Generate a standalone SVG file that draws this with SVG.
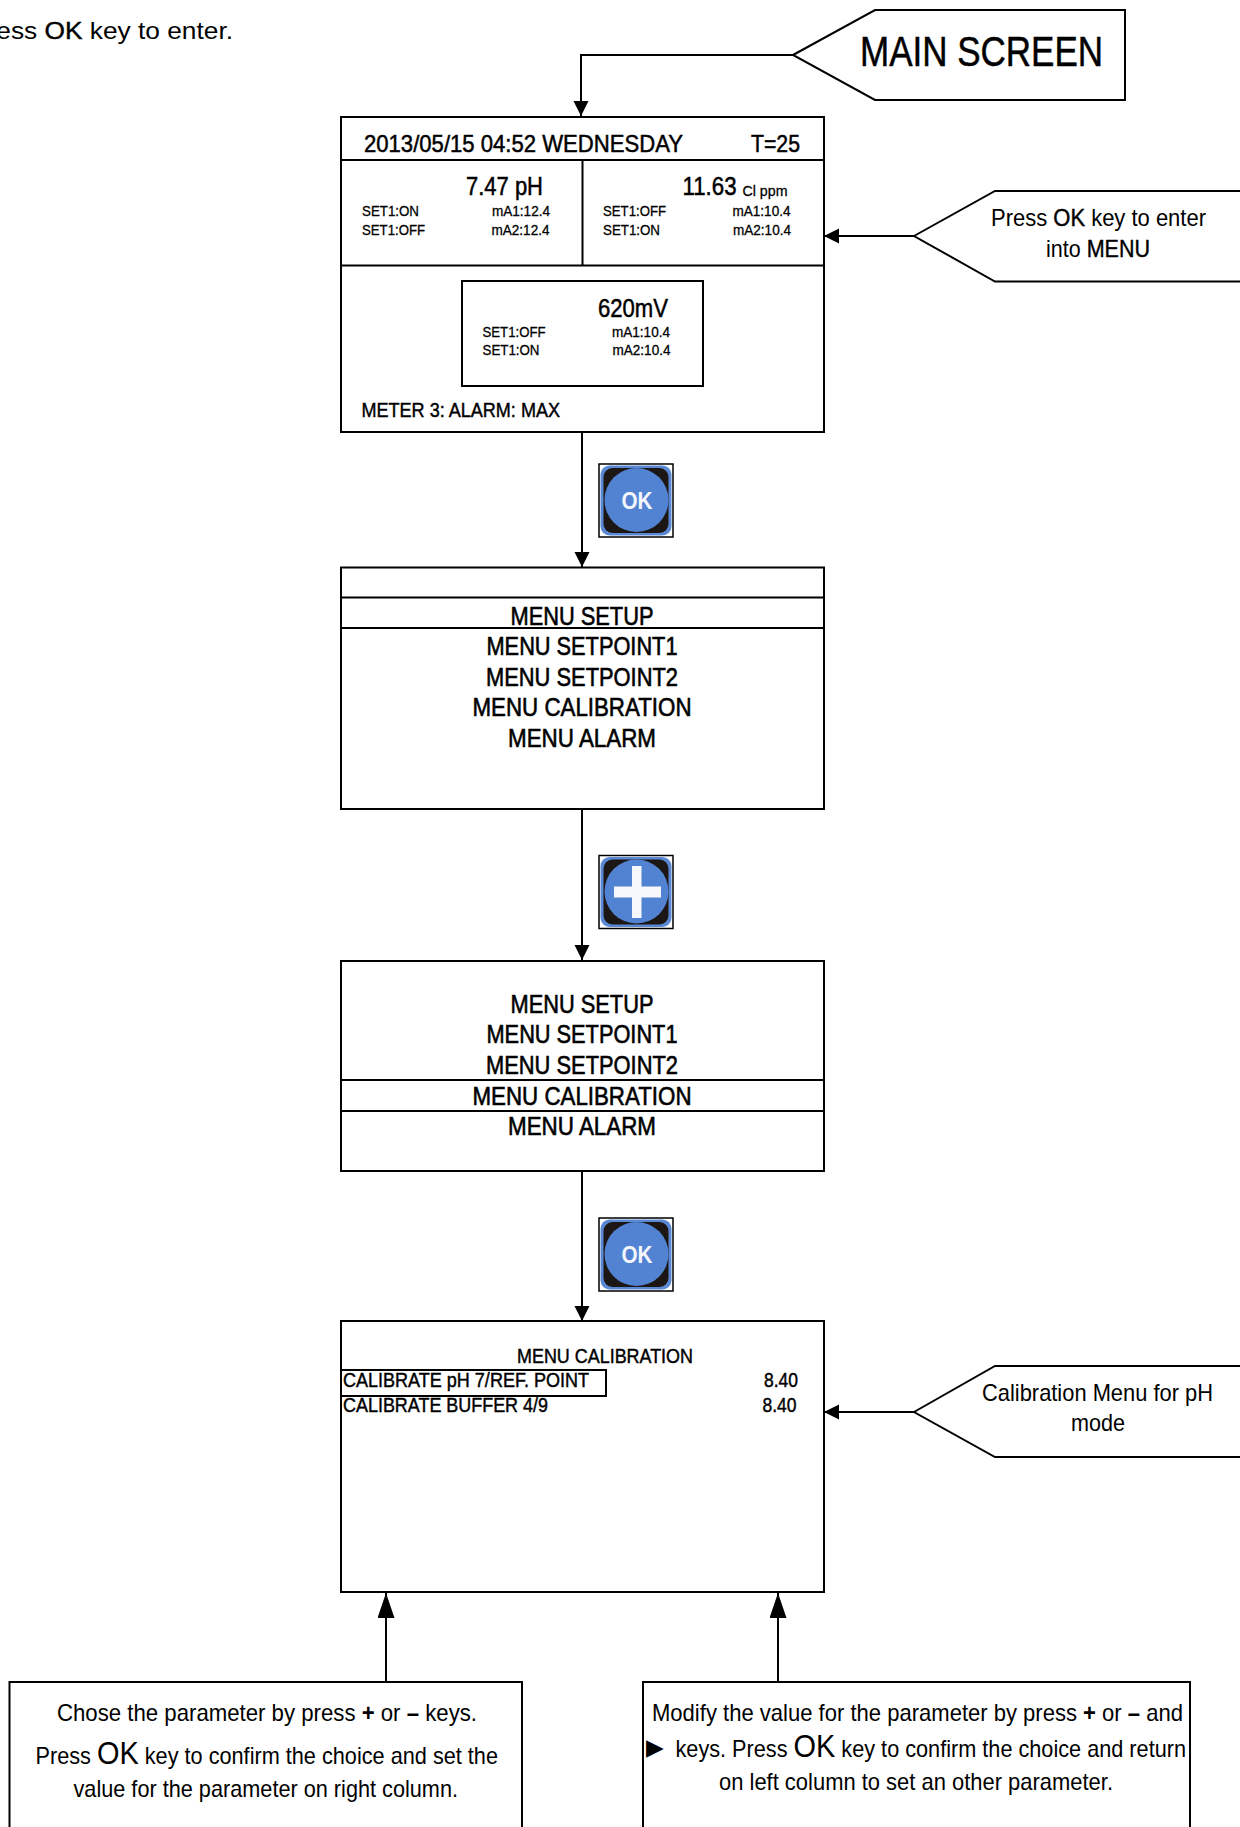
<svg xmlns="http://www.w3.org/2000/svg" width="1240" height="1827" viewBox="0 0 1240 1827">
<style>
text{font-family:"Liberation Sans",Arial,sans-serif;fill:#000;font-size:24px}
.m{text-anchor:middle}
.box{fill:#fff;stroke:#000;stroke-width:2}
.ln{fill:none;stroke:#000;stroke-width:2}
.s{font-size:15.5px;stroke:#000;stroke-width:.3}
.big{font-size:26px;stroke:#000;stroke-width:.5}
.h{font-size:24.500px;stroke:#000;stroke-width:.5}
.menu{font-size:25.500px;stroke:#000;stroke-width:.6}
.d{font-size:21px;stroke:#000;stroke-width:.45}
.ok{stroke:#000;stroke-width:.4}
.btn{font-weight:bold;fill:#f4f6fb;font-size:24px}
</style>
<defs>
<marker id="ah" markerUnits="userSpaceOnUse" markerWidth="16" markerHeight="16" refX="15" refY="7.5" orient="auto"><path d="M0 0L15 7.5L0 15Z" fill="#000"/></marker>
<marker id="au" markerUnits="userSpaceOnUse" markerWidth="26" markerHeight="18" refX="25" refY="8.5" orient="auto"><path d="M0 0L25 8.5L0 17Z" fill="#000"/></marker>
<g id="keybase">
<rect x="0" y="0" width="74" height="73" fill="#fff" stroke="#000" stroke-width="1.500"/>
<rect x="1.500" y="1.500" width="71" height="70" rx="9" fill="#5a88d4"/>
<rect x="4.500" y="4" width="65" height="65" rx="9" fill="#1c1714"/>
<circle cx="37.500" cy="36" r="32" fill="#5283d3"/>
</g>
</defs>
<text x="-30" y="39" textLength="263" lengthAdjust="spacingAndGlyphs">Press <tspan class="ok">OK</tspan> key to enter.</text>

<g id="connectors">
<path class="ln" d="M793 55H581V116" marker-end="url(#ah)"/>
<path class="ln" d="M914 236H824" marker-end="url(#ah)"/>
<path class="ln" d="M582 432V567" marker-end="url(#ah)"/>
<path class="ln" d="M582 809V960" marker-end="url(#ah)"/>
<path class="ln" d="M582 1171V1321" marker-end="url(#ah)"/>
<path class="ln" d="M914 1412H824" marker-end="url(#ah)"/>
<path class="ln" d="M386 1682V1593" marker-end="url(#au)"/>
<path class="ln" d="M778 1682V1593" marker-end="url(#au)"/>
</g>

<g id="main-screen">
<path class="box" d="M793 55L875 10H1125V100H875Z"/>
<text x="860" y="66" style="font-size:42px;stroke:#000;stroke-width:.5" textLength="243" lengthAdjust="spacingAndGlyphs">MAIN SCREEN</text>
</g>

<g id="note-menu">
<path class="box" d="M914 236L995 191H1245V281.500H995Z"/>
<text x="991" y="226" textLength="215" lengthAdjust="spacingAndGlyphs">Press <tspan class="ok">OK</tspan> key to enter</text>
<text x="1046" y="257" textLength="104" lengthAdjust="spacingAndGlyphs">into <tspan class="ok">MENU</tspan></text>
</g>

<g id="screen-main">
<rect class="box" x="341" y="117" width="483" height="315"/>
<path class="ln" d="M341 160H824M341 265.500H824M582.500 160V265.500"/>
<rect class="box" x="462" y="281" width="241" height="105"/>
<text class="h" x="364" y="152" textLength="319" lengthAdjust="spacingAndGlyphs">2013/05/15 04:52 WEDNESDAY</text>
<text class="h" x="751" y="152" textLength="49" lengthAdjust="spacingAndGlyphs">T=25</text>
<text class="big" x="466" y="195" textLength="77" lengthAdjust="spacingAndGlyphs">7.47 pH</text>
<text class="s" x="362" y="216" textLength="57" lengthAdjust="spacingAndGlyphs">SET1:ON</text>
<text class="s" x="362" y="235" textLength="63" lengthAdjust="spacingAndGlyphs">SET1:OFF</text>
<text class="s" x="492" y="216" textLength="58" lengthAdjust="spacingAndGlyphs">mA1:12.4</text>
<text class="s" x="491.500" y="235" textLength="58" lengthAdjust="spacingAndGlyphs">mA2:12.4</text>
<text class="big" x="682.500" y="195" textLength="54" lengthAdjust="spacingAndGlyphs">11.63</text>
<text class="s" x="742.500" y="196" textLength="45" lengthAdjust="spacingAndGlyphs">Cl ppm</text>
<text class="s" x="603" y="216" textLength="63" lengthAdjust="spacingAndGlyphs">SET1:OFF</text>
<text class="s" x="603" y="235" textLength="57" lengthAdjust="spacingAndGlyphs">SET1:ON</text>
<text class="s" x="732.500" y="216" textLength="58" lengthAdjust="spacingAndGlyphs">mA1:10.4</text>
<text class="s" x="733" y="235" textLength="58" lengthAdjust="spacingAndGlyphs">mA2:10.4</text>
<text class="big" x="598" y="317" textLength="70" lengthAdjust="spacingAndGlyphs">620mV</text>
<text class="s" x="482.500" y="337" textLength="63" lengthAdjust="spacingAndGlyphs">SET1:OFF</text>
<text class="s" x="482.500" y="355" textLength="57" lengthAdjust="spacingAndGlyphs">SET1:ON</text>
<text class="s" x="612" y="337" textLength="58" lengthAdjust="spacingAndGlyphs">mA1:10.4</text>
<text class="s" x="612.500" y="355" textLength="58" lengthAdjust="spacingAndGlyphs">mA2:10.4</text>
<text class="d" x="361.500" y="417" textLength="198.500" lengthAdjust="spacingAndGlyphs">METER 3: ALARM: MAX</text>
</g>

<g id="key-ok-1" transform="translate(599 464)">
<use href="#keybase"/>
<text class="btn m" x="38" y="44.500" textLength="31" lengthAdjust="spacingAndGlyphs">OK</text>
</g>

<g id="screen-menu">
<rect class="box" x="341" y="567.500" width="483" height="241.500"/>
<path class="ln" d="M341 597.500H824M341 628H824"/>
<text class="menu m" x="582" y="625" textLength="143" lengthAdjust="spacingAndGlyphs">MENU SETUP</text>
<text class="menu m" x="582" y="655" textLength="191" lengthAdjust="spacingAndGlyphs">MENU SETPOINT1</text>
<text class="menu m" x="582" y="686" textLength="192" lengthAdjust="spacingAndGlyphs">MENU SETPOINT2</text>
<text class="menu m" x="582" y="716" textLength="219" lengthAdjust="spacingAndGlyphs">MENU CALIBRATION</text>
<text class="menu m" x="582" y="746.500" textLength="148" lengthAdjust="spacingAndGlyphs">MENU ALARM</text>
</g>

<g id="key-plus" transform="translate(599 855.500)">
<use href="#keybase"/>
<rect x="15" y="31" width="47" height="11" fill="#f6f8fc"/>
<rect x="33" y="10.500" width="9.500" height="52" fill="#f6f8fc"/>
</g>

<g id="screen-menu-2">
<rect class="box" x="341" y="961" width="483" height="210"/>
<path class="ln" d="M341 1080H824M341 1111H824"/>
<text class="menu m" x="582" y="1013" textLength="143" lengthAdjust="spacingAndGlyphs">MENU SETUP</text>
<text class="menu m" x="582" y="1043" textLength="191" lengthAdjust="spacingAndGlyphs">MENU SETPOINT1</text>
<text class="menu m" x="582" y="1074" textLength="192" lengthAdjust="spacingAndGlyphs">MENU SETPOINT2</text>
<text class="menu m" x="582" y="1105" textLength="219" lengthAdjust="spacingAndGlyphs">MENU CALIBRATION</text>
<text class="menu m" x="582" y="1135" textLength="148" lengthAdjust="spacingAndGlyphs">MENU ALARM</text>
</g>

<g id="key-ok-2" transform="translate(599 1218)">
<use href="#keybase"/>
<text class="btn m" x="38" y="44.500" textLength="31" lengthAdjust="spacingAndGlyphs">OK</text>
</g>

<g id="screen-calibration">
<rect class="box" x="341" y="1321" width="483" height="271"/>
<rect class="ln" x="341" y="1370" width="265" height="26"/>
<text class="d m" x="605" y="1363" textLength="176" lengthAdjust="spacingAndGlyphs">MENU CALIBRATION</text>
<text class="d" x="343" y="1387" textLength="246" lengthAdjust="spacingAndGlyphs">CALIBRATE pH 7/REF. POINT</text>
<text class="d" x="343" y="1412" textLength="205" lengthAdjust="spacingAndGlyphs">CALIBRATE BUFFER 4/9</text>
<text class="d" x="764" y="1387" textLength="34" lengthAdjust="spacingAndGlyphs">8.40</text>
<text class="d" x="762.500" y="1412" textLength="34" lengthAdjust="spacingAndGlyphs">8.40</text>
</g>

<g id="note-calibration">
<path class="box" d="M914 1412L995 1366H1245V1457H995Z"/>
<text x="982" y="1401" textLength="231" lengthAdjust="spacingAndGlyphs">Calibration Menu for pH</text>
<text x="1071" y="1431" textLength="54" lengthAdjust="spacingAndGlyphs">mode</text>
</g>

<g id="note-parameter">
<path class="box" d="M9.500 1835V1682H522V1835"/>
<text x="57" y="1721" textLength="420" lengthAdjust="spacingAndGlyphs">Chose the parameter by press <tspan font-weight="bold">+</tspan> or <tspan font-weight="bold">–</tspan> keys.</text>
<text x="35.500" y="1764" textLength="462.500" lengthAdjust="spacingAndGlyphs">Press <tspan style="font-size:32px">OK</tspan> key to confirm the choice and set the</text>
<text x="73.500" y="1797" textLength="384.500" lengthAdjust="spacingAndGlyphs">value for the parameter on right column.</text>
</g>

<g id="note-value">
<path class="box" d="M643 1835V1682H1190V1835"/>
<text x="652" y="1721" textLength="531" lengthAdjust="spacingAndGlyphs">Modify the value for the parameter by press <tspan font-weight="bold">+</tspan> or <tspan font-weight="bold">–</tspan> and</text>
<text x="646" y="1755" style="font-family:'DejaVu Sans',sans-serif;font-size:23px">▶</text>
<text x="675.500" y="1757" textLength="510.500" lengthAdjust="spacingAndGlyphs">keys. Press <tspan style="font-size:32px">OK</tspan> key to confirm the choice and return</text>
<text x="719" y="1790" textLength="394" lengthAdjust="spacingAndGlyphs">on left column to set an other parameter.</text>
</g>
</svg>
